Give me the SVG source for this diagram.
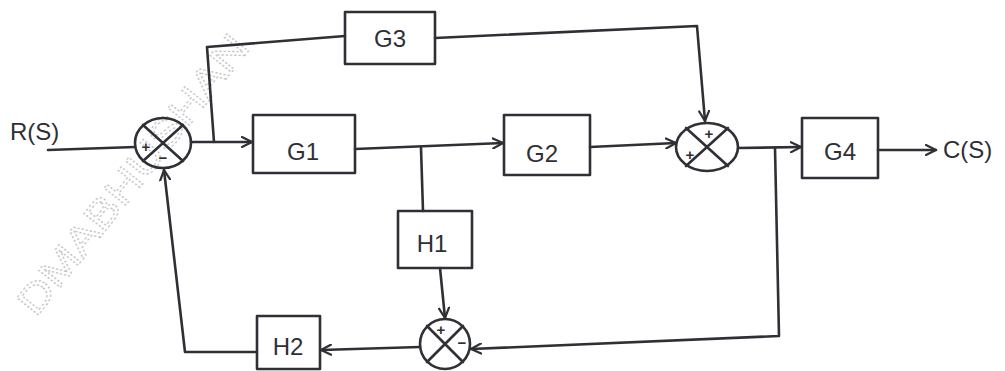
<svg xmlns="http://www.w3.org/2000/svg" width="1005" height="371" viewBox="0 0 1005 371">
<defs>
<style>
.ln{fill:none;stroke:#2f2f36;stroke-width:2.6;stroke-linecap:round;stroke-linejoin:round}
.bx{fill:none;stroke:#2f2f36;stroke-width:2.6;stroke-linejoin:round}
.lb{font-family:"Liberation Sans","DejaVu Sans",sans-serif;font-size:24px;fill:#2f2f36}
.sg{font-family:"Liberation Sans","DejaVu Sans",sans-serif;font-size:15px;font-weight:bold;fill:#2f2f36;text-anchor:middle}
.wm{font-family:"Liberation Sans","DejaVu Sans",sans-serif;font-size:40px;fill:none;stroke:#c4c4c8;stroke-width:1.2;stroke-dasharray:2 2}
</style>
<marker id="ah" viewBox="0 0 12 12" refX="11" refY="6" markerWidth="12" markerHeight="12" markerUnits="userSpaceOnUse" orient="auto">
<path d="M1,1 L11,6 L1,11" fill="none" stroke="#2f2f36" stroke-width="2.2" stroke-linecap="round"/>
</marker>
</defs>
<rect width="1005" height="371" fill="#ffffff"/>
<text class="wm" transform="translate(36,318) rotate(-51.5)" textLength="345" lengthAdjust="spacingAndGlyphs">DMABHUSHAN</text>

<g id="connectors">
<path class="ln" d="M48,150 L135,147"/>
<path class="ln" d="M191,142 L252,142" marker-end="url(#ah)"/>
<path class="ln" d="M214,142 L207,47 L345,36"/>
<path class="ln" d="M435,38 L697,26 L705,121" marker-end="url(#ah)"/>
<path class="ln" d="M355,149 L503,143" marker-end="url(#ah)"/>
<path class="ln" d="M421,148 L423,211"/>
<path class="ln" d="M590,147 L676,143" marker-end="url(#ah)"/>
<path class="ln" d="M738,148 L801,147" marker-end="url(#ah)"/>
<path class="ln" d="M878,150 L936,150" marker-end="url(#ah)"/>
<path class="ln" d="M775,148 L779,336 L471,349" marker-end="url(#ah)"/>
<path class="ln" d="M440,268 L445,318" marker-end="url(#ah)"/>
<path class="ln" d="M420,347 L321,350" marker-end="url(#ah)"/>
<path class="ln" d="M257,352 L185,352 L164,170" marker-end="url(#ah)"/>
</g>

<g id="sum1">
<ellipse class="ln" cx="163" cy="143" rx="28" ry="25"/>
<path class="ln" d="M143,125 L183,161 M183,125 L143,161"/>
<text class="sg" x="146" y="152">+</text>
<text class="sg" x="163" y="163">−</text>
</g>

<g id="sum2">
<ellipse class="ln" cx="707" cy="147" rx="31" ry="24"/>
<path class="ln" d="M686,128 L728,166 M728,128 L686,166"/>
<text class="sg" x="690" y="160">+</text>
<text class="sg" x="709" y="139">+</text>
</g>

<g id="sum3">
<circle class="ln" cx="445" cy="344" r="25"/>
<path class="ln" d="M427,326 L463,362 M463,326 L427,362"/>
<text class="sg" x="441" y="335">+</text>
<text class="sg" x="462" y="348">−</text>
</g>

<g id="G3">
<rect class="bx" x="345" y="12" width="90" height="52"/>
<text class="lb" x="390" y="47" text-anchor="middle">G3</text>
</g>
<g id="G1">
<rect class="bx" x="253" y="115" width="102" height="58"/>
<text class="lb" x="303" y="160" text-anchor="middle">G1</text>
</g>
<g id="G2">
<rect class="bx" x="504" y="115" width="86" height="60"/>
<text class="lb" x="542" y="162" text-anchor="middle">G2</text>
</g>
<g id="G4">
<rect class="bx" x="802" y="118" width="76" height="60"/>
<text class="lb" x="840" y="160" text-anchor="middle">G4</text>
</g>
<g id="H1">
<rect class="bx" x="398" y="211" width="74" height="57"/>
<text class="lb" x="432" y="252" text-anchor="middle">H1</text>
</g>
<g id="H2">
<rect class="bx" x="257" y="316" width="63" height="53"/>
<text class="lb" x="288" y="355" text-anchor="middle">H2</text>
</g>
<g id="labels">
<text class="lb" x="10" y="140">R(S)</text>
<text class="lb" x="943" y="158">C(S)</text>
</g>
</svg>
